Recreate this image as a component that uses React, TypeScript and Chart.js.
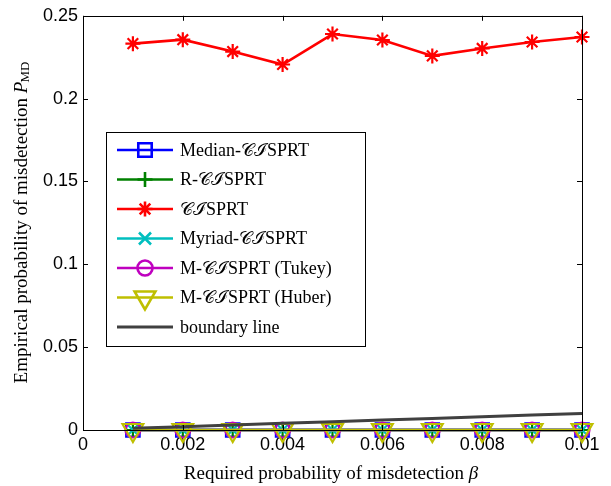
import React, { useEffect, useRef } from 'react';
import { Chart, registerables } from 'chart.js';
import { drawPoint } from 'chart.js/helpers';

Chart.register(...registerables);

const betaValues = [0.001, 0.002, 0.003, 0.004, 0.005, 0.006, 0.007, 0.008, 0.009, 0.01];
const medianValues = [0, 0, 0, 0, 0, 0, 0, 0, 0, 0];
const rValues = [0, 0, 0, 0, 0, 0, 0, 0, 0, 0];
const ciValues = [0.2332, 0.2356, 0.2284, 0.2206, 0.239, 0.2354, 0.2258, 0.2303, 0.2342, 0.2372];
const myriadValues = [0, 0, 0, 0, 0, 0, 0, 0, 0, 0];
const tukeyValues = [0, 0, 0, 0, 0, 0, 0, 0, 0, 0];
const huberValues = [0, 0, 0, 0, 0, 0, 0, 0, 0, 0];
const boundaryValues = [0.001, 0.002, 0.003, 0.004, 0.005, 0.006, 0.007, 0.008, 0.009, 0.01];

const seriesNames = [
  'Median-𝒞ℐSPRT',
  'R-𝒞ℐSPRT',
  '𝒞ℐSPRT',
  'Myriad-𝒞ℐSPRT',
  'M-𝒞ℐSPRT (Tukey)',
  'M-𝒞ℐSPRT (Huber)',
  'boundary line',
];

const xTickLabels = ['0', '0.002', '0.004', '0.006', '0.008', '0.01'];
const yTickLabels = ['0', '0.05', '0.1', '0.15', '0.2', '0.25'];

const xTitle = 'Required probability of misdetection ';
const xTitleSymbol = 'β';
const yTitle = 'Empirical probability of misdetection ';
const yTitleSymbol = 'P';
const yTitleSub = 'MD';

const SERIF = '"Liberation Serif", "DejaVu Serif", serif';
const SANS = '"Liberation Sans", Arial, sans-serif';

const toPts = (vals: number[]) => betaValues.map((b, i) => ({ x: b, y: vals[i] }));

const boxPlugin = {
  id: 'matlabBox',
  afterDraw(chart: any) {
    const { ctx, chartArea: a, scales } = chart;
    ctx.save();
    ctx.strokeStyle = '#000';
    ctx.lineWidth = 1;
    ctx.strokeRect(Math.round(a.left) + 0.5, Math.round(a.top) + 0.5, Math.round(a.right - a.left), Math.round(a.bottom - a.top));
    const tl = 5;
    ctx.beginPath();
    scales.x.ticks.forEach((t: any) => {
      const px = Math.round(scales.x.getPixelForValue(t.value)) + 0.5;
      ctx.moveTo(px, a.bottom);
      ctx.lineTo(px, a.bottom - tl);
      ctx.moveTo(px, a.top);
      ctx.lineTo(px, a.top + tl);
    });
    scales.y.ticks.forEach((t: any) => {
      const py = Math.round(scales.y.getPixelForValue(t.value)) + 0.5;
      ctx.moveTo(a.left, py);
      ctx.lineTo(a.left + tl, py);
      ctx.moveTo(a.right, py);
      ctx.lineTo(a.right - tl, py);
    });
    ctx.stroke();

    // axis titles
    const TF = 19;
    ctx.fillStyle = '#000';
    ctx.textBaseline = 'alphabetic';
    ctx.font = `${TF}px ${SERIF}`;
    const w1 = ctx.measureText(xTitle).width;
    ctx.font = `italic ${TF}px ${SERIF}`;
    const w2 = ctx.measureText(xTitleSymbol).width;
    const cx = 331;
    const sx = cx - (w1 + w2) / 2;
    ctx.textAlign = 'left';
    ctx.font = `${TF}px ${SERIF}`;
    ctx.fillText(xTitle, sx, 479);
    ctx.font = `italic ${TF}px ${SERIF}`;
    ctx.fillText(xTitleSymbol, sx + w1, 479);

    ctx.save();
    ctx.translate(27, 222);
    ctx.rotate(-Math.PI / 2);
    ctx.font = `${TF}px ${SERIF}`;
    const y1 = ctx.measureText(yTitle).width;
    ctx.font = `italic ${TF}px ${SERIF}`;
    const y2 = ctx.measureText(yTitleSymbol).width;
    ctx.font = `13px ${SERIF}`;
    const y3 = ctx.measureText(yTitleSub).width;
    const tot = y1 + y2 + y3;
    const s = -tot / 2;
    ctx.font = `${TF}px ${SERIF}`;
    ctx.fillText(yTitle, s, 0);
    ctx.font = `italic ${TF}px ${SERIF}`;
    ctx.fillText(yTitleSymbol, s + y1, 0);
    ctx.font = `13px ${SERIF}`;
    ctx.fillText(yTitleSub, s + y1 + y2 - 1, 2);
    ctx.restore();

    // legend
    const lx = 106, ly = 132, lw = 259, lh = 214;
    ctx.fillStyle = '#fff';
    ctx.fillRect(lx, ly, lw, lh);
    ctx.strokeStyle = '#000';
    ctx.lineWidth = 1;
    ctx.strokeRect(lx + 0.5, ly + 0.5, lw, lh);
    const ds = chart.data.datasets;
    ds.forEach((d: any, i: number) => {
      const ry = 150 + i * 29.5;
      ctx.strokeStyle = d.borderColor;
      ctx.lineWidth = d.borderWidth;
      ctx.beginPath();
      ctx.moveTo(117, ry);
      ctx.lineTo(173, ry);
      ctx.stroke();
      if (d.pointRadius > 0) {
        ctx.strokeStyle = d.pointBorderColor;
        ctx.fillStyle = 'rgba(0,0,0,0)';
        drawPoint(ctx, {
          pointStyle: d.pointStyle,
          radius: d.pointRadius,
          rotation: d.pointRotation || 0,
          borderWidth: d.pointBorderWidth,
        }, 145, ry);
      }
      ctx.fillStyle = '#000';
      ctx.font = `18px ${SERIF}`;
      ctx.textAlign = 'left';
      ctx.textBaseline = 'middle';
      ctx.fillText(d.label, 180, ry + 1);
    });
    ctx.restore();
  },
};

function mk(label: string, vals: number[], color: string, style: any, radius: number, order: number, rotation = 0) {
  return {
    label,
    data: toPts(vals),
    borderColor: color,
    borderWidth: 2.6,
    pointStyle: style,
    pointRadius: radius,
    pointRotation: rotation,
    pointBorderColor: color,
    pointBackgroundColor: 'rgba(0,0,0,0)',
    pointBorderWidth: 2.2,
    order,
    clip: false as any,
  };
}

export default function App() {
  const ref = useRef<HTMLCanvasElement | null>(null);
  useEffect(() => {
    document.body.style.margin = '0';
    const c = new Chart(ref.current!, {
      type: 'line',
      data: {
        datasets: [
          mk(seriesNames[0], medianValues, '#0000ff', 'rect', 9.5, 7),
          mk(seriesNames[1], rValues, '#008000', 'cross', 7.5, 6),
          mk(seriesNames[2], ciValues, '#ff0000', 'star', 7.5, 5),
          mk(seriesNames[3], myriadValues, '#00bfbf', 'crossRot', 8.5, 4),
          mk(seriesNames[4], tukeyValues, '#bf00bf', 'circle', 7.5, 3),
          mk(seriesNames[5], huberValues, '#bfbf00', 'triangle', 12, 2, 180),
          { ...mk(seriesNames[6], boundaryValues, '#404040', 'circle', 0, 1), borderWidth: 3 },
        ] as any,
      },
      options: {
        animation: false,
        responsive: false,
        maintainAspectRatio: false,
        layout: { padding: { top: 14, right: 29, left: 0, bottom: 0 } },
        plugins: { legend: { display: false }, tooltip: { enabled: false } },
        scales: {
          x: {
            type: 'linear',
            min: 0,
            max: 0.01,
            ticks: {
              stepSize: 0.002,
              padding: 4,
              color: '#000',
              font: { family: SANS, size: 18 },
              maxRotation: 0,
              autoSkip: false,
              callback: (_v: any, i: number) => xTickLabels[i],
            },
            grid: { display: false, drawTicks: false },
            border: { display: false },
            afterFit: (s: any) => { s.height = 56; },
          },
          y: {
            type: 'linear',
            min: 0,
            max: 0.25,
            ticks: {
              stepSize: 0.05,
              padding: 5,
              color: '#000',
              font: { family: SANS, size: 18 },
              callback: (_v: any, i: number) => yTickLabels[i],
            },
            grid: { display: false, drawTicks: false },
            border: { display: false },
            afterFit: (s: any) => { s.width = 83; },
          },
        },
      } as any,
      plugins: [boxPlugin],
    });
    return () => c.destroy();
  }, []);
  return (
    <div style={{ position: 'absolute', left: 0, top: 0, width: 611, height: 486, background: '#fff' }}>
      <canvas ref={ref} width={611} height={486} style={{ width: 611, height: 486 }} />
    </div>
  );
}
